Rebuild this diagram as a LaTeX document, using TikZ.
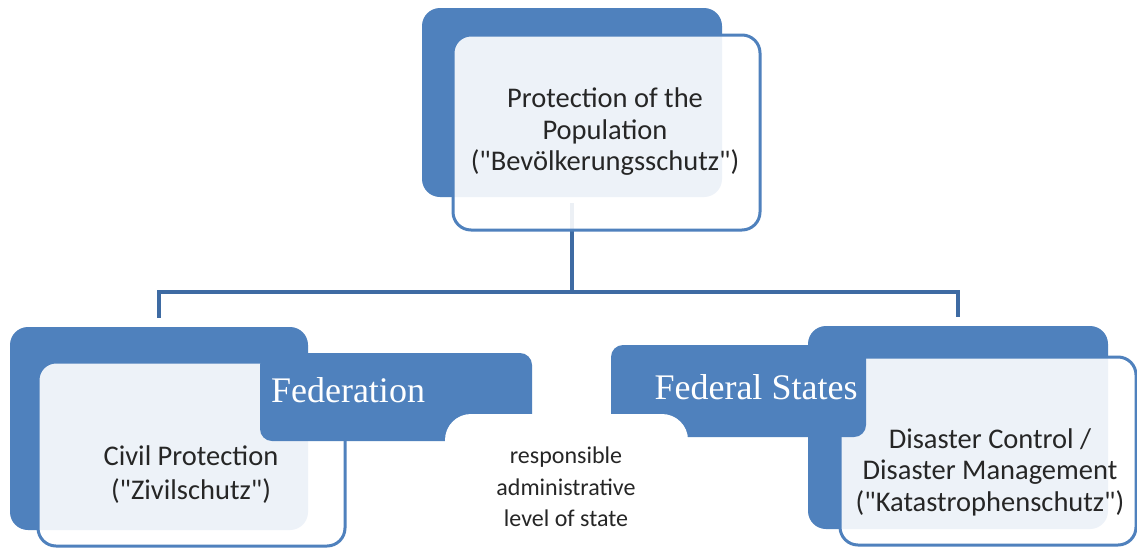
\documentclass[tikz,border=0pt]{standalone}
\usepackage{fontspec}
\setmainfont{Carlito}[Ligatures=TeXOff]
\newfontfamily\tabfont{Liberation Serif}
\definecolor{boxblue}{HTML}{4F81BD}
\definecolor{linkblue}{HTML}{3E6BA3}
\begin{document}
\begin{tikzpicture}[x=1pt,y=-1pt,
  backbox/.style={rectangle, rounded corners=18pt, fill=boxblue, draw=none, inner sep=0pt},
  frontbox/.style={rectangle, rounded corners=18pt, fill=white, fill opacity=0.9, draw=boxblue, draw opacity=1, line width=3pt, inner sep=0pt},
  tabbox/.style={rectangle, rounded corners=12pt, fill=boxblue, draw=none, inner sep=0pt},
  midbox/.style={rectangle, rounded corners=26pt, fill=white, draw=none, inner sep=0pt},
  bodytext/.style={align=center, font=\fontsize{28.5}{31.5}\selectfont, text=black!85, inner sep=0pt},
  tabtext/.style={font=\tabfont\fontsize{36}{40}\selectfont, text=white, inner sep=0pt},
  conn/.style={draw=linkblue, line width=4pt}
]
\useasboundingbox (0,0) rectangle (1137,549);
\fill[white] (0,0) rectangle (1137,549);

% top group
\node[backbox, minimum width=300pt, minimum height=189pt] (topback) at (572,102.5) {};
\coordinate (bus) at (572,292);
\draw[conn] ([yshift=-6pt]topback.south) -- (bus);
\node[frontbox, minimum width=307pt, minimum height=195pt] (topfront) at (606.5,132.5) {};
\node[bodytext] (toptext) at (605,132) {Protection of the\\Population\\("Bevölkerungsschutz")};

% left group
\node[backbox, minimum width=298pt, minimum height=203pt] (leftback) at (159,428.5) {};
\node[frontbox, minimum width=307pt, minimum height=184pt] (leftfront) at (191.5,454) {};
\node[tabbox, minimum width=272pt, minimum height=88pt] (fedtab) at (396,397) {};
\node[tabtext] (fedlabel) at (348,390) {Federation};
\node[bodytext, font=\fontsize{28.5}{34}\selectfont] (lefttext) at (191,475) {Civil Protection\\("Zivilschutz")};

% right group
\node[backbox, minimum width=300pt, minimum height=203pt] (rightback) at (958,427.5) {};
\node[frontbox, minimum width=296pt, minimum height=188pt] (rightfront) at (988,451) {};
\node[tabbox, minimum width=255pt, minimum height=92pt] (statetab) at (738.5,391) {};
\node[tabtext] (statelabel) at (756,387) {Federal States};
\node[bodytext] (righttext) at (990,472) {Disaster Control /\\Disaster Management\\("Katastrophenschutz")};

% connectors to lower groups
\draw[conn] (bus) -| ([yshift=9pt]leftback.north);
\draw[conn] (bus) -| ([yshift=9pt]rightback.north);

% middle label
\node[midbox, minimum width=243pt, minimum height=160pt] (midbox) at (566.5,494) {};
\node[bodytext, font=\fontsize{24}{31.5}\selectfont] (midtext) at (566,487) {responsible\\administrative\\level of state};
\end{tikzpicture}
\end{document}
